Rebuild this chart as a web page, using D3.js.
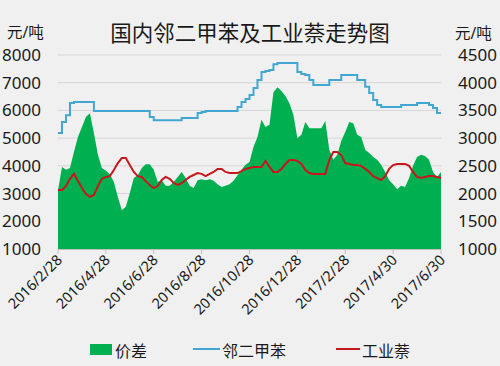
<!DOCTYPE html>
<html><head><meta charset="utf-8">
<script src="https://cdn.jsdelivr.net/npm/d3@7"></script>
<style>
html,body{margin:0;padding:0;background:#f0f0f0;}
svg{display:block;}
text{font-family:"Noto Sans","Noto Sans CJK SC",sans-serif;fill:#1a1a1a;}
</style></head><body>
<svg id="c" width="500" height="366"></svg>
<script>
// tick labels placed every 12 samples (index 0..96)
const tickLabels = ["2016/2/28","2016/4/28","2016/6/28","2016/8/28","2016/10/28","2016/12/28","2017/2/28","2017/4/30","2017/6/30"];
const leftTicks = [1000,2000,3000,4000,5000,6000,7000,8000];
const rightTicks = [1000,1500,2000,2500,3000,3500,4000,4500];

// 价差 (right axis)
const spread = [2060,2480,2430,2460,2750,3020,3200,3380,3450,3090,2700,2460,2410,2350,2210,1940,1700,1760,2010,2280,
2330,2460,2530,2530,2430,2210,2240,2140,2140,2210,2300,2390,2280,2140,2100,2240,2260,2240,2260,2230,
2170,2120,2140,2170,2230,2330,2430,2520,2570,2840,3020,3330,3200,3240,3830,3920,3850,3760,3630,3420,
3000,3060,3290,3180,3180,3180,3180,3310,2790,2610,2700,2950,3110,3290,3270,3060,3020,2790,2730,2660,
2610,2520,2390,2240,2170,2080,2140,2120,2280,2500,2660,2700,2680,2610,2390,2300,2390];

// 邻二甲苯 (left axis)
const oxylene = [5190,5580,5830,6270,6300,6300,6300,6300,6300,5980,5980,5980,5980,5980,5980,5980,5980,5980,5980,5980,
5980,5980,5980,5760,5650,5650,5650,5650,5650,5650,5650,5730,5730,5730,5730,5910,5940,5980,5980,5980,
5980,5980,5980,5980,5980,6120,6300,6410,6560,6810,7100,7390,7420,7460,7670,7710,7710,7710,7710,7710,
7390,7310,7280,7100,6920,6920,6920,6920,7100,7100,7100,7280,7280,7280,7280,7100,7100,6850,6630,6380,
6200,6120,6120,6120,6120,6120,6200,6200,6200,6200,6270,6270,6270,6200,6090,5910,5910];

// 工业萘 (left axis)
const naphthalene = [3130,3130,3270,3530,3710,3450,3200,2980,2880,2950,3270,3530,3600,3630,3850,4100,4280,4280,4030,3780,
3630,3600,3450,3310,3200,3270,3490,3600,3530,3380,3310,3380,3490,3600,3670,3740,3710,3630,3710,3780,
3890,3890,3780,3740,3740,3740,3810,3890,3920,3960,3960,3960,4180,3960,3780,3780,3890,4070,4210,4210,
4180,4070,3850,3740,3710,3710,3710,3710,4210,4500,4500,4390,4100,4070,4030,4030,4000,3890,3780,3630,
3560,3490,3630,3890,4030,4070,4070,4070,4000,3780,3600,3560,3600,3630,3630,3600,3560];

const svg = d3.select("#c");
const L = 58, R = 441, T = 55, B = 249;
const x = d3.scaleLinear().domain([0, spread.length-1]).range([L, R]);
const yL = d3.scaleLinear().domain([1000, 8000]).range([B, T]);
const yR = d3.scaleLinear().domain([1000, 4500]).range([B, T]);

// gridlines
svg.append("g").selectAll("line").data(leftTicks.slice(1)).join("line")
  .attr("x1", L).attr("x2", R).attr("y1", d=>yL(d)).attr("y2", d=>yL(d))
  .attr("stroke", "#d6d6d6").attr("stroke-width", 1);

// area
const idx = d3.range(spread.length);
svg.append("path").datum(idx)
  .attr("d", d3.area().x(i=>x(i)).y0(B).y1(i=>yR(spread[i])))
  .attr("fill", "#00b050");

// lines
svg.append("path").datum(idx)
  .attr("d", d3.line().curve(d3.curveStepAfter).x(i=>x(i)).y(i=>yL(oxylene[i])))
  .attr("fill","none").attr("stroke","#41a7d0").attr("stroke-width",2);
svg.append("path").datum(idx)
  .attr("d", d3.line().x(i=>x(i)).y(i=>yL(naphthalene[i])))
  .attr("fill","none").attr("stroke","#c8161d").attr("stroke-width",2);

// x axis
const tickIdx = tickLabels.map((t,k)=>k*12);
const xg = svg.append("g");
xg.append("line").attr("x1",L).attr("x2",R).attr("y1",B+0.5).attr("y2",B+0.5).attr("stroke","#bfbfbf");
xg.selectAll("line.t").data(tickIdx).join("line").attr("class","t")
  .attr("x1",i=>x(i)).attr("x2",i=>x(i)).attr("y1",B).attr("y2",B+5).attr("stroke","#bfbfbf");
xg.selectAll("text").data(tickLabels).join("text")
  .attr("transform",(d,k)=>`translate(${x(tickIdx[k])+5},${B+12}) rotate(-45)`)
  .attr("text-anchor","end").attr("font-size",14.5).text(d=>d);

// y axes labels
svg.append("g").selectAll("text").data(leftTicks).join("text")
  .attr("x", 41).attr("y", d=>yL(d)+6).attr("text-anchor","end").attr("font-size",17).text(d=>d);
svg.append("g").selectAll("text").data(rightTicks).join("text")
  .attr("x", 497).attr("y", d=>yR(d)+6).attr("text-anchor","end").attr("font-size",17).text(d=>d);

// units
svg.append("text").attr("x",7).attr("y",38).attr("font-size",15.5).text("元/吨");
svg.append("text").attr("x",455).attr("y",39).attr("font-size",15.5).text("元/吨");

// title
svg.append("text").attr("x",250).attr("y",41).attr("text-anchor","middle")
  .attr("font-size",21.5).attr("fill","#222").text("国内邻二甲苯及工业萘走势图");

// legend
const lg = svg.append("g");
lg.append("rect").attr("x",90).attr("y",344).attr("width",22).attr("height",11).attr("fill","#00b050");
lg.append("text").attr("x",115).attr("y",357).attr("font-size",16).text("价差");
lg.append("line").attr("x1",193).attr("x2",220).attr("y1",349).attr("y2",349).attr("stroke","#41a7d0").attr("stroke-width",2);
lg.append("text").attr("x",222).attr("y",357).attr("font-size",16).text("邻二甲苯");
lg.append("line").attr("x1",336).attr("x2",360).attr("y1",349).attr("y2",349).attr("stroke","#c8161d").attr("stroke-width",2);
lg.append("text").attr("x",362).attr("y",357).attr("font-size",16).text("工业萘");
</script>
</body></html>
